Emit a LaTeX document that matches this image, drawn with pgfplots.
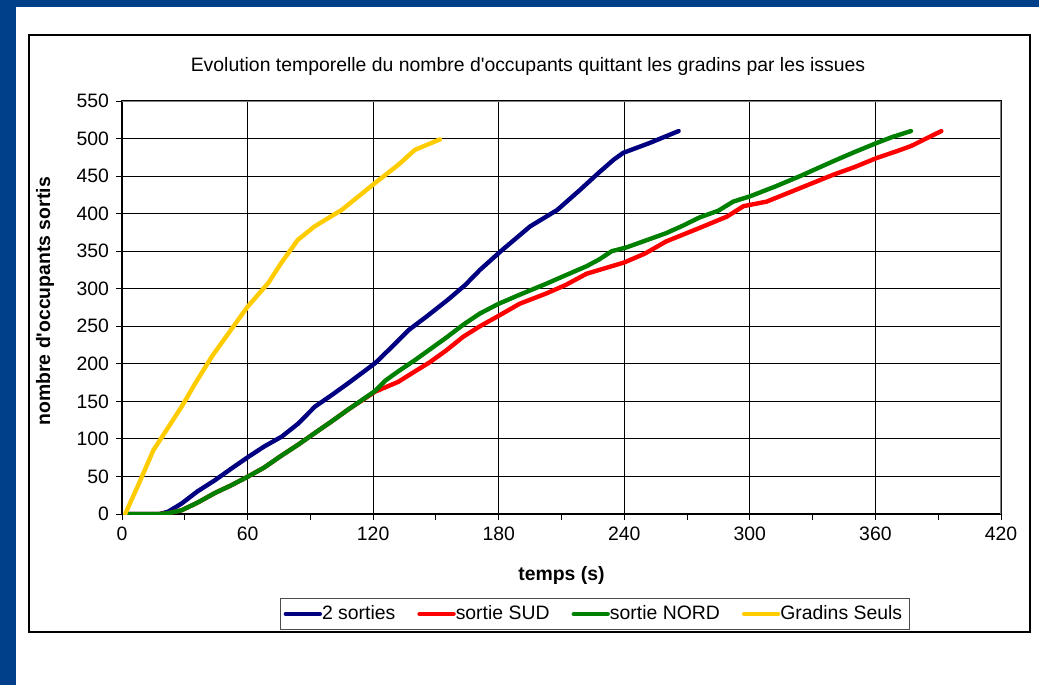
\documentclass[border=0pt]{standalone}
\usepackage{fontspec}
\setmainfont{Liberation Sans}
\usepackage{pgfplots}
\pgfplotsset{compat=1.18}
\definecolor{bgblue}{RGB}{0,63,138}
\definecolor{cnavy}{RGB}{0,0,128}
\definecolor{cred}{RGB}{255,0,0}
\definecolor{cgreen}{RGB}{0,128,0}
\definecolor{cyellow}{RGB}{255,204,0}
\newcommand{\ff}{\fontsize{9.7}{11}\selectfont}
\begin{document}
\begin{tikzpicture}
\fill[bgblue] (0,0) rectangle (519.5pt,-342.5pt);
\fill[white] (8pt,-3.5pt) rectangle (519.5pt,-342.5pt);
\draw[black, line width=0.6pt] (14.5pt,-17.5pt) rectangle (515pt,-316pt);
\node[font=\ff] at (264pt,-33pt) {Evolution temporelle du nombre d\textquotesingle occupants quittant les gradins par les issues};
\begin{axis}[
  at={(61pt,-257pt)}, anchor=south west,
  width=439.5pt, height=206.5pt, scale only axis,
  xmin=0, xmax=420, ymin=0, ymax=550,
  xtick={0,60,...,420}, ytick={0,50,...,550},
  minor x tick num=1,
  xtick pos=left, ytick pos=left,
  grid=major, major grid style={black, line width=0.5pt},
  axis line style={black, line width=0.6pt},
  tick align=outside, tick style={black, line width=0.5pt},
  major tick length=3pt, minor tick length=3pt,
  tick label style={font=\ff},
  /pgf/number format/assume math mode=true,
  xlabel={temps (s)}, ylabel={nombre d\textquotesingle occupants sortis},
  xlabel style={at={(axis description cs:0.5,-0.1477)}, anchor=center, font=\ff\bfseries},
  ylabel style={at={(axis description cs:-0.0876,0.515)}, anchor=center, font=\ff\bfseries},
  legend style={at={(axis description cs:0.538,-0.242)}, anchor=center, draw=black!70, line width=0.5pt, font=\ff, inner sep=1.5pt, /tikz/every even column/.append style={column sep=9pt}, /tikz/every odd column/.append style={column sep=-2pt}},
  legend columns=4,
  legend cell align=left,
  legend image code/.code={\draw[#1] (0pt,0pt) -- (17pt,0pt);},
  every axis plot/.append style={line width=2.2pt, line join=round, line cap=round},
]
\addplot[cnavy] coordinates {(3,0)(18,0)(22,3)(28.5,14)(36,30)(44.4,45)(52,60)(60.3,76)(68,90)(76.3,103)(84,120)(92.2,143)(100,158)(108,174)(121,201)(128,220)(137,245)(146,264)(156,286)(164,305)(171,325)(181,350)(195,383)(208,405)(219,432)(228,455)(235,472)(239.5,481)(252,494)(266,510)};
\addlegendentry{2 sorties}
\addplot[cred] coordinates {(3,0)(18,0)(22,1)(28.5,5)(36,15)(44.4,28)(52,38)(60.3,50)(68,62)(76.3,78)(84,92)(92.2,108)(100,123)(108,139)(121,163)(132,176)(140,190)(147,202)(155,218)(163,236)(171,250)(180,264)(190,280)(203,294)(212,305)(222,320)(228,325)(240,335)(250,347)(260,363)(268,372)(276,381)(289,396)(297,410)(308,416)(324,434)(332,443)(340,452)(350,462)(360.5,474)(370,483)(377,490)(391.5,510)};
\addlegendentry{sortie SUD}
\addplot[cgreen] coordinates {(3,0)(18,0)(22,1)(28.5,5)(36,15)(44.4,28)(52,38)(60.3,50)(68,62)(76.3,78)(84,92)(92.2,108)(100,123)(108,139)(121,164)(126,178)(132,190)(140,205)(147,219)(155,235)(163,252)(171,267)(180,280)(190,292)(203,307)(212,318)(222,330)(228,339)(234,350)(241,355)(250,364)(260,374)(268,384)(276,395)(285,404)(292,416)(300,423)(312,436)(324,450)(332,460)(340,470)(350,482)(360.5,494)(368,502)(377,510)};
\addlegendentry{sortie NORD}
\addplot[cyellow] coordinates {(1.5,0)(8,40)(15,85)(22,115)(28.5,143)(35,174)(43,210)(52,245)(60,276)(70,308)(76,334)(84,365)(92,383)(105,405)(121,441)(132,465)(140,485)(152,499)};
\addlegendentry{Gradins Seuls}
\draw[gray, line width=0.6pt] (rel axis cs:0,1) -- (rel axis cs:1,1) -- (rel axis cs:1,0);
\end{axis}
\end{tikzpicture}
\end{document}
